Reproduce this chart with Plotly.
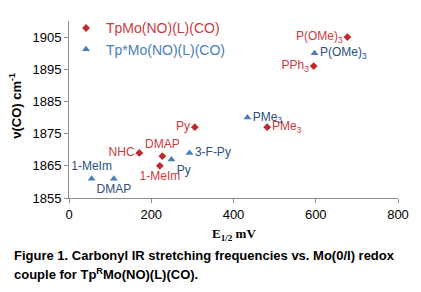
import plotly.graph_objects as go

# Data
red_name = "TpMo(NO)(L)(CO)"
red_x = [677, 595, 306, 482, 171, 227, 221]
red_y = [1905, 1896, 1877, 1877, 1869, 1868, 1865]
red_labels = ["P(OMe)<sub>3</sub>", "PPh<sub>3</sub>", "Py", "PMe<sub>3</sub>", "NHC", "DMAP", "1-MeIm"]
red_pos = ["middle left", "middle left", "middle left", "middle right", "middle left", "top center", "bottom center"]

blue_name = "Tp*Mo(NO)(L)(CO)"
blue_x = [597, 434, 293, 249, 55, 109]
blue_y = [1900, 1880, 1869, 1867, 1861, 1861]
blue_labels = ["P(OMe)<sub>3</sub>", "PMe<sub>3</sub>", "3-F-Py", "Py", "1-MeIm", "DMAP"]
blue_pos = ["middle right", "middle right", "middle right", "bottom right", "top center", "bottom center"]

x_ticks = [0, 200, 400, 600, 800]
y_ticks = [1855, 1865, 1875, 1885, 1895, 1905]

FONT = "Liberation Sans, Arial, sans-serif"
RED_M = "#c0282d"
RED_T = "#cc3a3f"
BLUE_M = "#4a7ebb"
BLUE_T = "#2d4f7e"
BLUE_L = "#4a7ebb"

fig = go.Figure()
fig.add_trace(go.Scatter(
    x=red_x, y=red_y, mode="markers+text",
    name=f"<span style='color:{RED_T}'>{red_name}</span>",
    marker=dict(symbol="diamond", size=6, color=RED_M),
    text=red_labels, textposition=red_pos,
    textfont=dict(family=FONT, size=12, color=RED_T),
))
fig.add_trace(go.Scatter(
    x=blue_x, y=blue_y, mode="markers+text",
    name=f"<span style='color:{BLUE_L}'>{blue_name}</span>",
    marker=dict(symbol="triangle-up", size=7, color=BLUE_M),
    text=blue_labels, textposition=blue_pos,
    textfont=dict(family=FONT, size=12, color=BLUE_T),
))

L, R, T, B = 69, 19, 13, 94
pw = 421 - L - R
ph = 292 - T - B

def py(p):
    return (292 - B - p) / ph

def px(p):
    return (p - L) / pw

fig.update_layout(
    width=421, height=292,
    margin=dict(l=L, r=R, t=T, b=B),
    paper_bgcolor="white", plot_bgcolor="white",
    font=dict(family=FONT, size=13, color="black"),
    showlegend=True,
    legend=dict(x=px(66), y=py(4), xanchor="left", yanchor="top",
                bgcolor="rgba(0,0,0,0)", font=dict(size=14), itemwidth=30,
                tracegroupgap=0),
    xaxis=dict(range=[0, 800], tickvals=x_ticks, showgrid=False, zeroline=False,
               showline=True, linecolor="#8c8c8c", linewidth=1,
               ticks="outside", ticklen=4, tickcolor="#8c8c8c",
               tickfont=dict(size=13, color="black")),
    yaxis=dict(range=[1855, 1910], tickvals=y_ticks, showgrid=False, zeroline=False,
               showline=True, linecolor="#8c8c8c", linewidth=1,
               ticks="outside", ticklen=4, tickcolor="#8c8c8c",
               tickfont=dict(size=13, color="black")),
)

anns = [
    dict(text="<b>E<sub>1/2</sub> mV</b>", x=0.5, y=py(236), xref="paper", yref="paper",
         xanchor="center", yanchor="middle",
         showarrow=False, font=dict(family="Liberation Serif, Times New Roman, serif", size=13)),
    dict(text="<b>ν(CO) cm<sup>-1</sup></b>", x=px(15), y=py(102), xref="paper", yref="paper",
         xanchor="center", yanchor="middle",
         showarrow=False, textangle=-90, font=dict(family=FONT, size=13)),
    dict(text="<b>Figure 1. Carbonyl IR stretching frequencies vs. Mo(0/I) redox</b>",
         x=px(11), y=py(258), xref="paper", yref="paper", xanchor="left", yanchor="middle",
         showarrow=False, font=dict(family=FONT, size=13)),
    dict(text="<b>couple for Tp<sup>R</sup>Mo(NO)(L)(CO).</b>",
         x=px(11), y=py(277), xref="paper", yref="paper", xanchor="left", yanchor="middle",
         showarrow=False, font=dict(family=FONT, size=13)),
]
fig.update_layout(annotations=anns)

fig.write_html("out.html", config={"displayModeBar": False},
               post_script="document.body.style.margin='0';")
